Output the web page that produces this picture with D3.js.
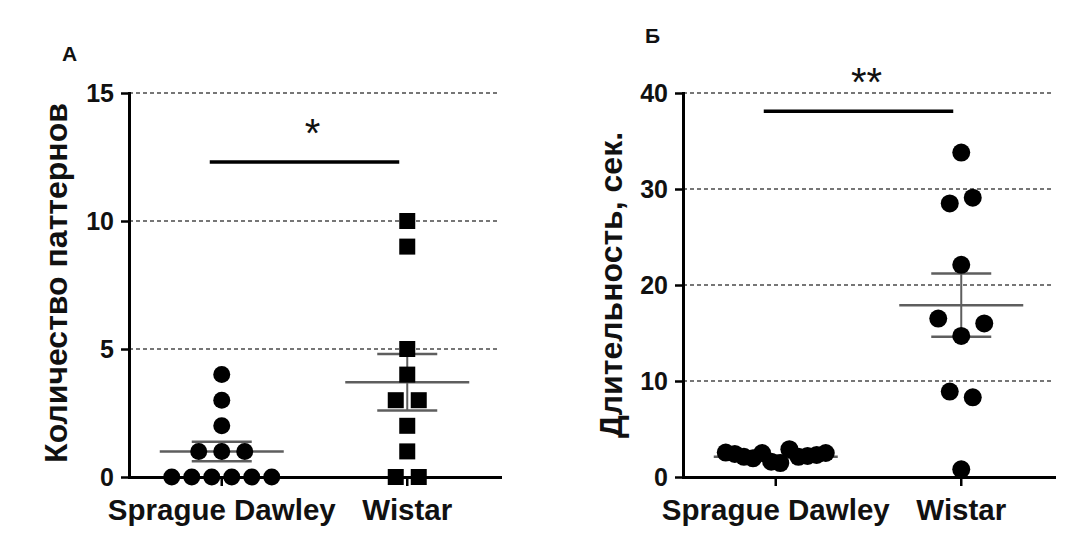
<!DOCTYPE html>
<html>
<head>
<meta charset="utf-8">
<script src="https://cdn.jsdelivr.net/npm/d3@7"></script>
<style>
    body { margin: 0; background: #fff; }
    svg { display: block; font-family: "Liberation Sans", Arial, sans-serif; }
</style>
</head>
<body>
<svg id="chart" width="1065" height="540"></svg>
<script>
// data
const categories = ["Sprague Dawley", "Wistar"];

// panel А: number of patterns
const patternsSD = [0, 0, 0, 0, 0, 0, 1, 1, 1, 2, 3, 4];
const patternsWistar = [10, 9, 5, 4, 3, 3, 2, 1, 0, 0];
const patternsMean = [1.0, 3.7];
const patternsSem = [0.38, 1.1];
const patternsTicks = [0, 5, 10, 15];

// panel Б: duration, sec
const durationSD = [2.55, 2.4, 2.1, 1.95, 2.5, 1.6, 1.45, 2.9, 2.1, 2.2, 2.3, 2.5];
const durationWistar = [33.8, 28.5, 29.1, 22.1, 16.5, 14.7, 16.0, 8.9, 8.3, 0.8];
const durationMean = [2.1, 17.9];
const durationSem = [0.13, 3.3];
const durationTicks = [0, 10, 20, 30, 40];

const svg = d3.select("#chart");

// spread points that sit on (almost) the same height side by side, like a scatter dot plot
function spreadPoints(values, y, cx) {
    const order = d3.range(values.length).sort((a, b) => values[b] - values[a]);
    const bins = [];
    order.forEach(i => {
        const last = bins[bins.length - 1];
        if (last && y(values[i]) - y(values[last[0]]) < 20) last.push(i);
        else bins.push([i]);
    });
    const pts = [];
    bins.forEach(bin => {
        bin.sort((a, b) => a - b);
        const step = bin.length > 1 ? Math.min(23, 100 / (bin.length - 1)) : 0;
        bin.forEach((i, k) => pts.push({ v: values[i], x: cx + (k - (bin.length - 1) / 2) * step }));
    });
    return pts;
}

function drawPanel(opts) {
    const width = 371, height = 384;
    const g = svg.append("g").attr("transform", `translate(${opts.left}, ${opts.top})`);

    const x = d3.scaleBand().domain(categories).range([0, width]);
    const y = d3.scaleLinear().domain([0, d3.max(opts.ticks)]).range([height, 0]);
    const cx = d => x(d) + x.bandwidth() / 2;

    // dashed gridlines
    g.selectAll(".grid")
        .data(opts.ticks.filter(d => d > 0))
        .join("line")
        .attr("x1", 0).attr("x2", width)
        .attr("y1", d => y(d)).attr("y2", d => y(d))
        .attr("stroke", "#4a4a4a")
        .attr("stroke-width", 1.7)
        .attr("stroke-dasharray", "4,3");

    // axes
    const yAxis = g.append("g")
        .call(d3.axisLeft(y).tickValues(opts.ticks).tickSize(8).tickPadding(7).tickSizeOuter(0));
    const xAxis = g.append("g")
        .attr("transform", `translate(0, ${height})`)
        .call(d3.axisBottom(x).tickSize(9).tickPadding(13).tickSizeOuter(0));

    [yAxis, xAxis].forEach(a => {
        a.select(".domain").attr("stroke", "#000").attr("stroke-width", 3).attr("stroke-linecap", "square");
        a.selectAll(".tick line").attr("stroke", "#000").attr("stroke-width", 2.5);
    });
    yAxis.selectAll(".tick text")
        .style("font-size", "25px").style("font-weight", "bold").attr("fill", "#111");
    xAxis.selectAll(".tick text")
        .style("font-size", "29.5px").style("font-weight", "bold").attr("fill", "#111");

    // mean and SEM
    categories.forEach((c, i) => {
        const m = opts.mean[i], s = opts.sem[i];
        const eg = g.append("g").attr("stroke", "#5e5e5e");
        eg.append("line")
            .attr("x1", cx(c)).attr("x2", cx(c))
            .attr("y1", y(m - s)).attr("y2", y(m + s))
            .attr("stroke-width", 2);
        eg.append("line")
            .attr("x1", cx(c) - 62).attr("x2", cx(c) + 62)
            .attr("y1", y(m)).attr("y2", y(m))
            .attr("stroke-width", 2.5);
        [m - s, m + s].forEach(v => {
            eg.append("line")
                .attr("x1", cx(c) - 30).attr("x2", cx(c) + 30)
                .attr("y1", y(v)).attr("y2", y(v))
                .attr("stroke-width", 2.5);
        });
    });

    // points
    opts.series.forEach((vals, i) => {
        const pts = spreadPoints(vals, y, cx(categories[i]));
        if (opts.shapes[i] === "square") {
            g.selectAll(null).data(pts).join("rect")
                .attr("x", d => d.x - 8).attr("y", d => y(d.v) - 8)
                .attr("width", 16).attr("height", 16)
                .attr("fill", "#000");
        } else {
            g.selectAll(null).data(pts).join("circle")
                .attr("cx", d => d.x).attr("cy", d => y(d.v))
                .attr("r", opts.radius)
                .attr("fill", "#000");
        }
    });

    // significance bar
    const barY = y(opts.sigLevel);
    g.append("line")
        .attr("x1", cx(categories[0]) - 12).attr("x2", cx(categories[1]) - 8)
        .attr("y1", barY).attr("y2", barY)
        .attr("stroke", "#000").attr("stroke-width", 3.5);
    g.append("text")
        .attr("x", (cx(categories[0]) + cx(categories[1])) / 2 - 2)
        .attr("y", barY - 15)
        .attr("text-anchor", "middle")
        .style("font-size", "40px")
        .attr("fill", "#111")
        .text(opts.sigText);

    // y label
    svg.append("text")
        .attr("transform", `translate(${opts.labelX}, ${opts.labelY}) rotate(-90)`)
        .attr("text-anchor", "middle")
        .style("font-size", "32px")
        .style("font-weight", "bold")
        .attr("fill", "#111")
        .text(opts.label);

    // panel letter
    svg.append("text")
        .attr("x", opts.titleX).attr("y", opts.titleY)
        .style("font-size", "21px")
        .style("font-weight", "bold")
        .attr("fill", "#111")
        .text(opts.title);
}

drawPanel({
    left: 129, top: 93,
    ticks: patternsTicks,
    series: [patternsSD, patternsWistar],
    shapes: ["circle", "square"],
    radius: 8.5,
    mean: patternsMean, sem: patternsSem,
    sigLevel: 12.3, sigText: "*",
    label: "Количество паттернов", labelX: 67, labelY: 283,
    title: "А", titleX: 62, titleY: 61
});

drawPanel({
    left: 683, top: 93,
    ticks: durationTicks,
    series: [durationSD, durationWistar],
    shapes: ["circle", "circle"],
    radius: 9,
    mean: durationMean, sem: durationSem,
    sigLevel: 38.1, sigText: "**",
    label: "Длительность, сек.", labelX: 622, labelY: 285,
    title: "Б", titleX: 645, titleY: 43
});
</script>
</body>
</html>
